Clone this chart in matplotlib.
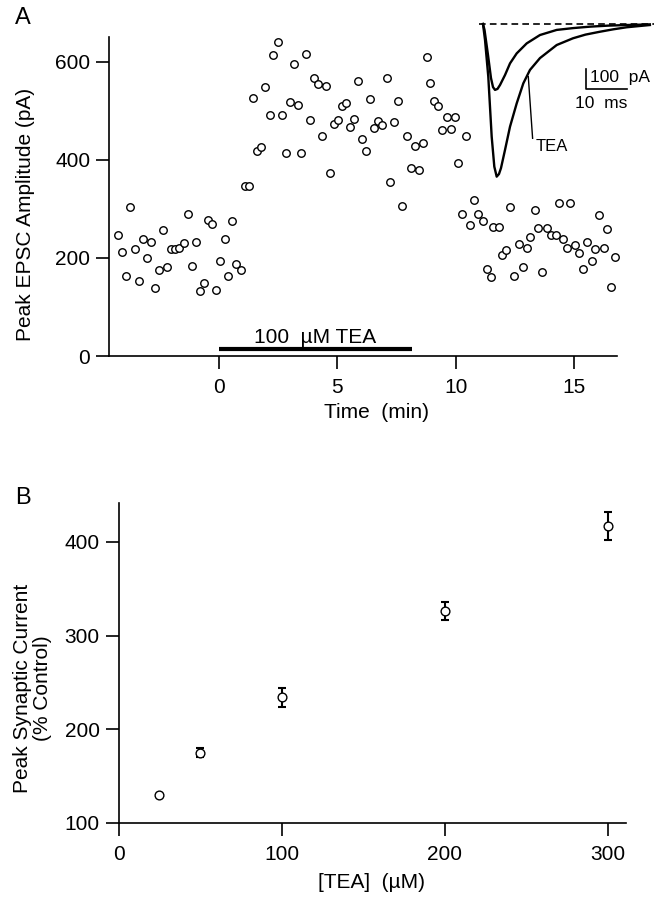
import matplotlib
matplotlib.use('Agg')
import matplotlib.pyplot as plt
import numpy as np

plt.rcParams['font.family'] = ['Liberation Sans', 'DejaVu Sans']

# ---------------- Panel A data ----------------
time_min = [-4.28, -4.11, -3.93, -3.75, -3.57, -3.39, -3.23, -3.05, -2.88, -2.71,
            -2.54, -2.38, -2.19, -2.05, -1.87, -1.69, -1.50, -1.33, -1.16, -0.98,
            -0.81, -0.63, -0.48, -0.28, -0.12, 0.06, 0.23, 0.39, 0.56, 0.73, 0.93,
            1.09, 1.27, 1.45, 1.62, 1.79, 1.95, 2.14, 2.29, 2.49, 2.65, 2.81, 2.98,
            3.15, 3.33, 3.47, 3.67, 3.83, 4.00, 4.18, 4.33, 4.50, 4.67, 4.84, 5.01,
            5.18, 5.35, 5.53, 5.71, 5.88, 6.02, 6.20, 6.37, 6.53, 6.72, 6.89, 7.08,
            7.22, 7.41, 7.58, 7.75, 7.92, 8.09, 8.27, 8.44, 8.61, 8.78, 8.93, 9.10,
            9.27, 9.44, 9.62, 9.79, 9.96, 10.11, 10.27, 10.44, 10.61, 10.77, 10.96,
            11.14, 11.32, 11.49, 11.59, 11.82, 11.97, 12.14, 12.31, 12.48, 12.66,
            12.83, 13.00, 13.15, 13.35, 13.49, 13.64, 13.84, 14.04, 14.22, 14.35,
            14.52, 14.68, 14.82, 15.02, 15.19, 15.36, 15.53, 15.74, 15.90, 16.05,
            16.25, 16.39, 16.57, 16.74]
epsc_pA = [247, 213, 164, 304, 218, 152, 239, 200, 232, 138,
           175, 256, 181, 218, 218, 220, 230, 290, 184, 232,
           133, 149, 277, 270, 134, 193, 238, 164, 275, 188, 175,
           346, 347, 527, 418, 427, 548, 491, 613, 641, 491, 414, 518,
           595, 512, 414, 616, 482, 567, 555, 449, 550, 374, 473, 482,
           510, 516, 468, 484, 560, 442, 418, 525, 466, 480, 472, 566,
           355, 477, 521, 306, 448, 383, 428, 379, 435, 609, 556, 520,
           510, 461, 487, 463, 488, 394, 290, 448, 268, 318, 290,
           275, 178, 162, 264, 264, 205, 216, 304, 164, 228,
           182, 220, 242, 298, 262, 172, 261, 247, 247, 313,
           239, 221, 313, 226, 211, 178, 233, 193, 218, 287,
           221, 260, 140, 201]
tea_period_min = [0.0, 8.15]
tea_period_label = '100  \u00b5M TEA'
a_xticks = [0, 5, 10, 15]
a_yticks = [0, 200, 400, 600]

# Inset: example EPSC traces (ms, pA)
ctrl_ms = [0, 0.37, 1.22, 1.95, 2.44, 2.93, 3.54, 4.15, 5.37, 6.59, 8.22, 10.66,
           13.9, 17.98, 22.0, 26.1, 30.5, 35.05, 40.7]
ctrl_pA = [0, -29, -152, -265, -309, -323, -318, -299, -250, -193, -144, -95,
           -54, -29, -20, -13, -8, -5, -2]
tea_ms = [0, 0.49, 1.29, 2.12, 2.76, 3.34, 3.9, 4.39, 5.37, 6.59, 8.22, 9.83,
          11.46, 13.9, 17.98, 21.95, 25.0, 28.5, 31.8, 35.05, 40.7]
tea_pA = [0, -78, -258, -552, -699, -748, -735, -706, -617, -503, -389, -291,
          -225, -167, -103, -70, -52, -38, -26, -16, -5]

# ---------------- Panel B data ----------------
tea_conc_uM = [25, 50, 100, 200, 300]
peak_pct_control = [130, 175, 234, 326, 417]
peak_sem = [0, 5, 10, 9.5, 15]
b_xticks = [0, 100, 200, 300]
b_yticks = [100, 200, 300, 400]

W, H = 656, 899
fig = plt.figure(figsize=(W / 100, H / 100), dpi=100)


def rect(l, t, r, b):
    return [l / W, 1 - b / H, (r - l) / W, (b - t) / H]


def fx(x):
    return x / W


def fy(y):
    return 1 - y / H


FS = 15
LW = 1.2


def style_axes(ax):
    for s in ['top', 'right']:
        ax.spines[s].set_visible(False)
    for s in ['left', 'bottom']:
        ax.spines[s].set_linewidth(LW)
    ax.tick_params(direction='out', length=9.5, width=LW, labelsize=FS,
                   colors='black')
    ax.tick_params(axis='x', pad=6.5)
    ax.tick_params(axis='y', pad=4)


# ---------------- Panel A ----------------
axA = fig.add_axes(rect(109, 37.3, 616.7, 356))
axA.plot(time_min, epsc_pA, linestyle='none', marker='o', markersize=5.4,
         markerfacecolor='white', markeredgecolor='black', markeredgewidth=1.0,
         clip_on=False)
axA.plot(tea_period_min, [14, 14], color='black', linewidth=3.0,
         solid_capstyle='butt')
axA.text(np.mean(tea_period_min), 27, tea_period_label, ha='center',
         va='baseline', fontsize=FS)
axA.set_xlim(-4.65, 16.8)
axA.set_ylim(0, 650)
axA.set_xticks(a_xticks)
axA.set_yticks(a_yticks)
style_axes(axA)

fig.text(fx(26), fy(214), 'Peak EPSC Amplitude (pA)', rotation=90,
         ha='center', va='center', fontsize=FS)
fig.text(fx(377), fy(412), 'Time  (min)', ha='center', va='center',
         fontsize=FS)
fig.text(fx(23), fy(18.5), 'A', ha='center', va='center', fontsize=17)

# Inset traces
axI = fig.add_axes(rect(470, 10, 656, 190))
axI.set_xlim(-3.17, 42.2)
axI.set_ylim(-813.4, 68.6)
axI.axis('off')
axI.axhline(0, xmin=0.05, xmax=0.99, color='black', linewidth=1.2,
            dashes=(4, 2.5))
axI.plot(ctrl_ms, ctrl_pA, color='black', linewidth=1.7)
axI.plot(tea_ms, tea_pA, color='black', linewidth=1.7)
# scale bar: 100 pA, 10 ms
axI.plot([25.1, 25.1, 35.1], [-220, -320, -320], color='black',
         linewidth=1.2)
axI.text(26.1, -262, '100  pA', ha='left', va='center', fontsize=12.5)
axI.text(28.8, -392, '10  ms', ha='center', va='center', fontsize=12.5)
axI.text(16.9, -601, 'TEA', ha='center', va='center', fontsize=12)
axI.plot([12.1, 11.05], [-560, -258], color='black', linewidth=1.0)

# ---------------- Panel B ----------------
axB = fig.add_axes(rect(118.6, 503, 625.7, 823))
conc = np.array(tea_conc_uM)
mean = np.array(peak_pct_control)
sem = np.array(peak_sem)
has_err = sem > 0
axB.errorbar(conc[has_err], mean[has_err], yerr=sem[has_err], fmt='none',
             ecolor='black', elinewidth=1.5, capsize=3.2, capthick=1.5,
             zorder=2)
axB.plot(conc, mean, linestyle='none', marker='o', markersize=6.3,
         markerfacecolor='white', markeredgecolor='black',
         markeredgewidth=1.0, zorder=3)
axB.set_xlim(0, 311)
axB.set_ylim(100, 441.6)
axB.set_xticks(b_xticks)
axB.set_yticks(b_yticks)
style_axes(axB)

fig.text(fx(23), fy(688), 'Peak Synaptic Current', rotation=90,
         ha='center', va='center', fontsize=FS)
fig.text(fx(42), fy(688), '(% Control)', rotation=90,
         ha='center', va='center', fontsize=FS)
fig.text(fx(372), fy(883), '[TEA]  (\u00b5M)', ha='center', va='center',
         fontsize=FS)
fig.text(fx(23), fy(498.5), 'B', ha='center', va='center', fontsize=17)

fig.savefig('out.png', dpi=100)
